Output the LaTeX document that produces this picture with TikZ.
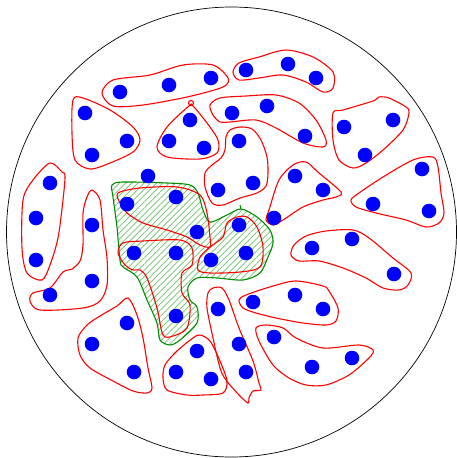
\documentclass[tikz,border=0pt]{standalone}
\usetikzlibrary{patterns.meta}
\definecolor{hatch}{RGB}{130,200,130}
\definecolor{dgreen}{RGB}{0,140,0}
\tikzset{
  grp/.style={draw=red, line width=1.1pt},
  dot/.style={fill=blue},
}
\begin{document}
\begin{tikzpicture}[x=1pt,y=-1pt]
\useasboundingbox (0,0) rectangle (456,458);
\draw[line width=0.7pt] (231.5,232) circle (225pt);
% green hatched region
\draw[draw=dgreen, line width=1.1pt, pattern={Lines[angle=45,distance=4.4pt,line width=0.9pt]}, pattern color=hatch]
 plot[smooth cycle, tension=0.5] coordinates {(112,185) (123,182) (167,183) (190,185) (198,193) (203,210) (210,222) (227,215) (241,209) (257,217) (270,230) (273,243) (268,257) (260,273) (243,280) (217,278) (197,278) (188,287) (190,300) (197,307) (197,323) (180,340) (170,345) (160,340) (157,323) (147,300) (137,277) (123,267) (120,260) (117,227) (113,197)};
\draw[dgreen, line width=1pt] (241,209) -- (240,205);
% red groups
\draw[grp] plot[smooth cycle] coordinates {(102,93) (113,80) (150,75) (183,65) (213,65) (228,78) (223,87) (187,97) (143,105) (113,106)};
\draw[grp] plot[smooth cycle] coordinates {(73,100) (83,98) (110,110) (133,127) (140,140) (133,152) (110,163) (90,169) (75,160) (72,133)};
\draw[grp] plot[smooth cycle] coordinates {(189,106) (167,127) (157,147) (167,157) (200,159) (217,153) (218,140) (207,123) (193,106)};
\draw[grp] (191,103) circle (2.5pt);
\draw[grp] plot[smooth cycle] coordinates {(233,72) (239,63) (259,57) (286,50) (313,57) (333,72) (333,88) (323,92) (306,82) (283,75) (259,78) (239,80)};
\draw[grp] plot[smooth cycle] coordinates {(210,105) (220,98) (246,96) (276,95) (299,103) (316,120) (326,140) (323,147) (303,143) (276,128) (256,120) (230,122) (220,122) (213,115)};
\draw[grp] plot[smooth cycle] coordinates {(230,130) (240,127) (252,129) (261,140) (267,157) (268,173) (266,186) (257,193) (240,198) (223,205) (212,203) (205,187) (205,173) (212,165) (221,158) (225,150) (226,137)};
\draw[grp] plot[smooth cycle] coordinates {(333,113) (343,110) (373,101) (379,97) (389,98) (406,107) (409,113) (403,130) (383,150) (366,163) (353,168) (339,160) (333,140)};
\draw[grp] plot[smooth cycle] coordinates {(50,163) (62,172) (65,176) (63,200) (58,238) (50,265) (42,280) (27,273) (22,248) (23,200) (33,180)};
\draw[grp] plot[smooth cycle] coordinates {(92,190) (100,200) (103,230) (107,258) (107,285) (100,301) (83,308) (40,310) (30,301) (33,293) (50,288) (63,272) (72,269) (80,261) (83,245) (83,213) (87,197)};
\draw[grp] plot[smooth cycle] coordinates {(118,193) (140,188) (177,187) (200,195) (207,213) (210,237) (210,247) (200,245) (187,237) (167,230) (143,223) (127,213) (120,203)};
\draw[grp] plot[smooth cycle] coordinates {(227,223) (237,217) (247,217) (257,227) (263,247) (260,267) (240,272) (210,273) (198,270) (200,257) (210,247) (223,237)};
\draw[grp] plot[smooth cycle] coordinates {(118,253) (123,243) (143,241) (180,240) (192,248) (192,265) (182,273) (182,293) (190,305) (187,328) (173,336) (163,335) (157,308) (147,278) (140,270) (133,270) (125,265)};
\draw[grp] plot[smooth cycle] coordinates {(266,220) (269,210) (279,180) (293,165) (306,162) (319,173) (341,192) (336,197) (323,200) (303,207) (283,220) (273,225)};
\draw[grp] plot[smooth cycle] coordinates {(351,200) (359,193) (383,177) (413,160) (433,157) (438,167) (441,193) (444,213) (439,223) (426,227) (406,220) (376,213) (356,207)};
\draw[grp] plot[smooth cycle] coordinates {(291,255) (294,245) (306,236) (326,231) (353,230) (369,238) (393,258) (411,273) (408,285) (399,290) (383,288) (366,278) (343,268) (319,261) (299,261)};
\draw[grp] plot[smooth cycle] coordinates {(239,300) (246,295) (273,286) (296,281) (323,286) (329,291) (338,308) (336,321) (326,325) (303,323) (276,318) (256,313) (243,308)};
\draw[grp] plot[smooth cycle] coordinates {(256,328) (266,325) (283,328) (296,338) (323,348) (359,345) (373,350) (369,358) (349,375) (326,385) (306,385) (289,378) (273,365) (259,341)};
\draw[grp] plot[smooth cycle] coordinates {(208,293) (213,288) (222,288) (229,300) (239,328) (253,361) (259,383) (261,390) (253,391) (249,398) (248,403) (239,395) (226,380) (220,368) (213,338) (207,308)};
\draw[grp] plot[smooth cycle] coordinates {(165,365) (177,351) (193,338) (200,335) (210,341) (220,361) (227,381) (223,393) (203,395) (187,395) (167,390) (163,378)};
\draw[grp] plot[smooth cycle] coordinates {(128,298) (137,315) (143,338) (148,368) (152,388) (147,393) (133,391) (113,381) (90,368) (80,355) (78,338) (87,325) (100,316) (117,306)};
% dots
\foreach \p in {(120,92),(169,85),(211,78),(246,70),(288,64),(316,78),(85,113),(127,141),(92,155),(190,120),(169,141),(204,148),(232,113),(267,106),(305,136),(239,141),(253,183),(218,190),(344,127),(393,120),(365,155),(148,176),(50,183),(36,218),(36,260),(92,225),(92,281),(50,295),(127,204),(176,197),(197,232),(239,225),(295,176),(323,190),(274,218),(422,169),(373,204),(429,211),(134,253),(176,253),(211,260),(246,253),(312,248),(352,239),(394,274),(253,302),(295,295),(323,309),(218,309),(176,316),(127,323),(92,344),(134,372),(197,351),(176,372),(211,379),(239,344),(246,372),(274,337),(312,367),(352,358)}
  \fill[dot] \p circle (7.3pt);
\end{tikzpicture}
\end{document}
